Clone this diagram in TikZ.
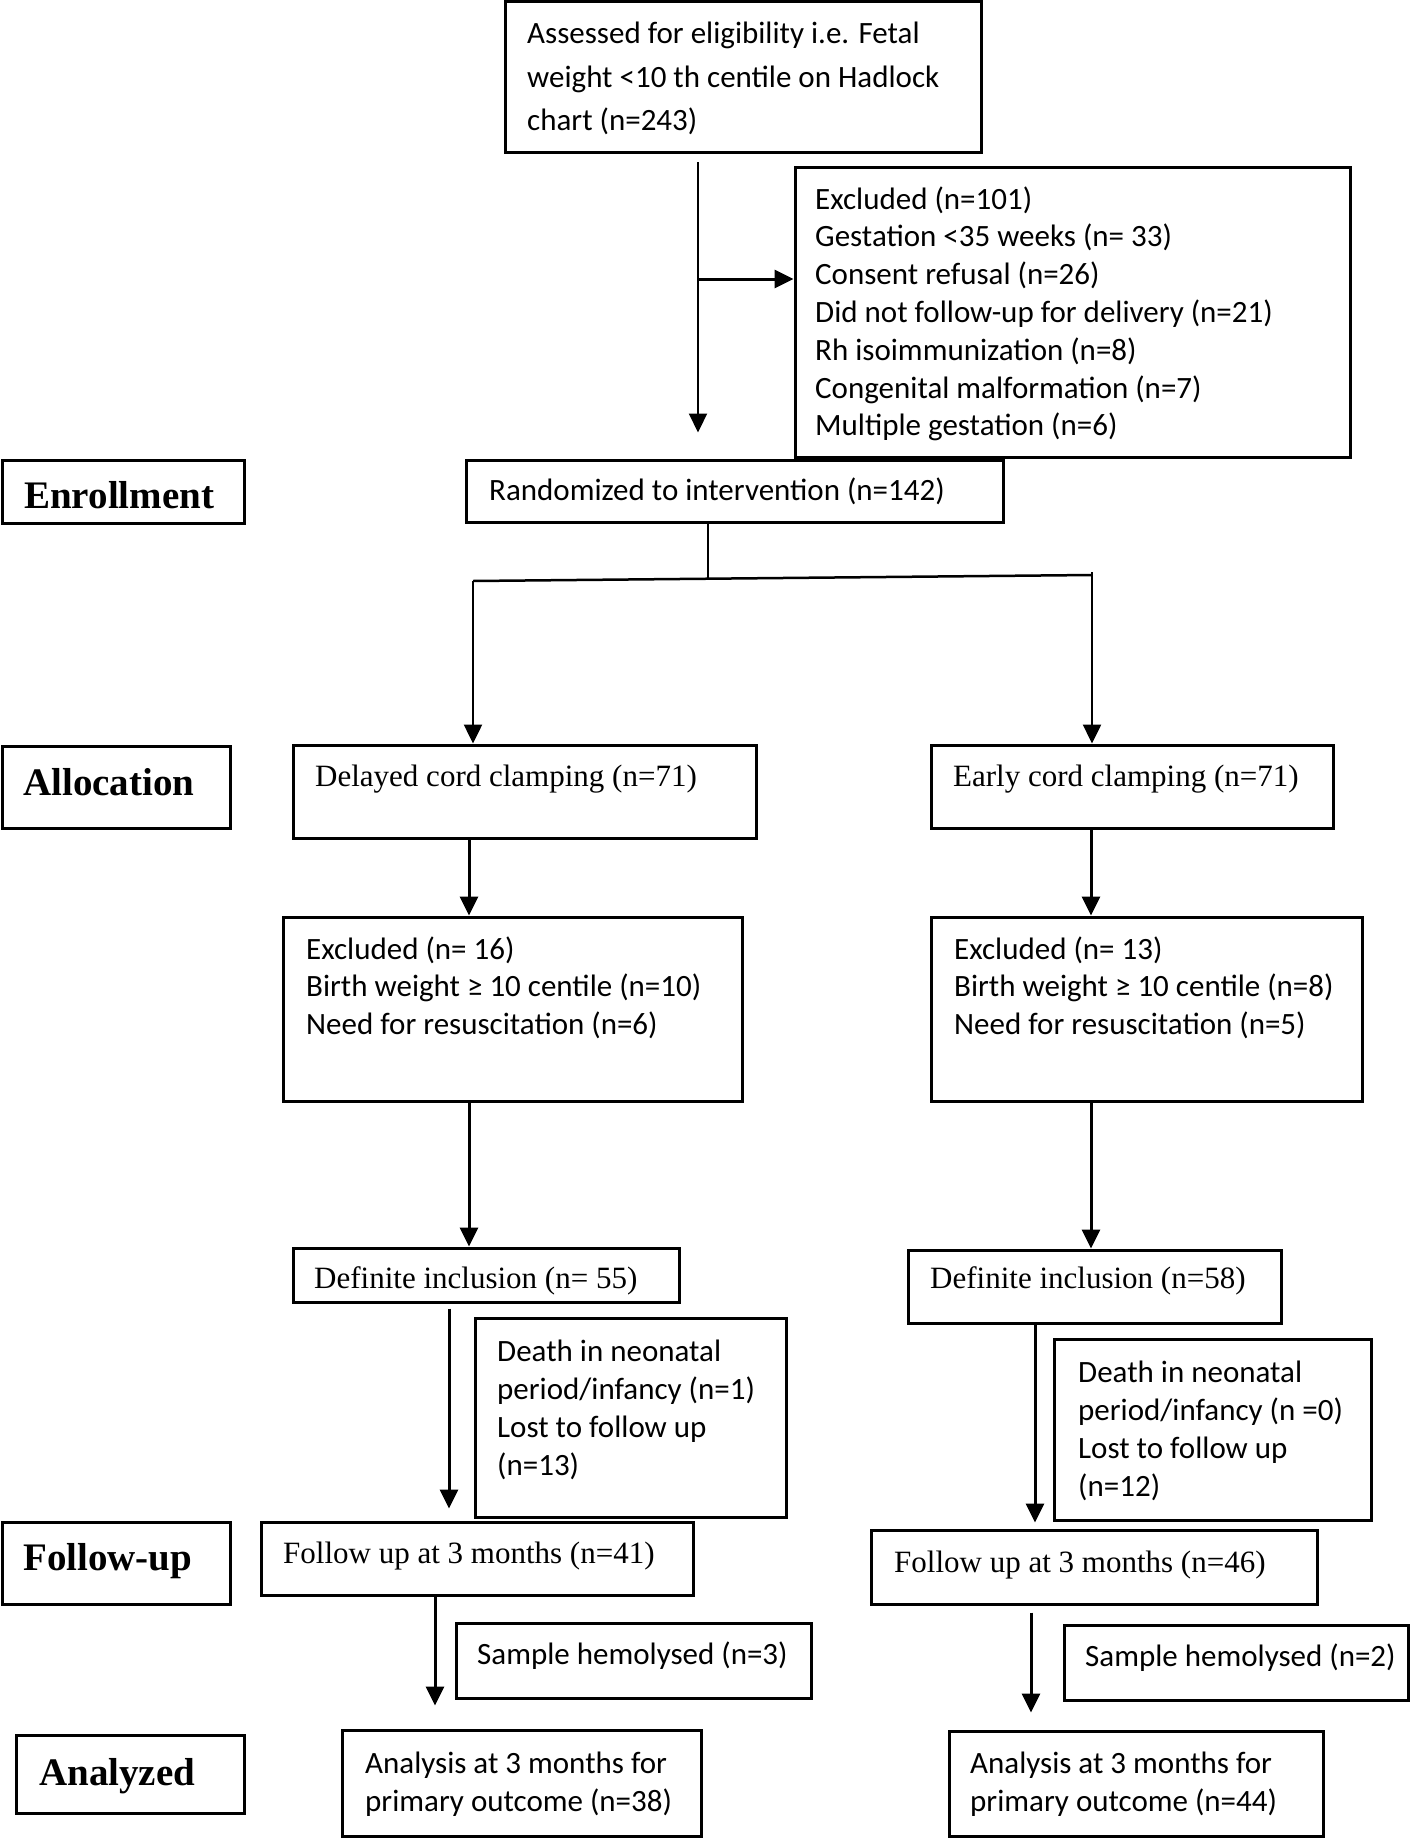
\documentclass[tikz,border=0pt]{standalone}
\usepackage{fontspec}
\setmainfont{Carlito}
\newfontfamily\tnr{Liberation Serif}
\usetikzlibrary{arrows.meta,fit}
\newcommand\mlines[2]{\parbox[t]{800pt}{\raggedright\fontsize{31}{#1}\selectfont #2}}
\begin{document}
\begin{tikzpicture}[x=1pt,y=-1pt,
  box/.style={draw, line width=3pt, inner sep=0pt},
  txt/.style={anchor=base west, inner sep=0pt, font=\fontsize{31}{38}\selectfont},
  ttxt/.style={anchor=base west, inner sep=0pt, font=\tnr\fontsize{31}{38}\selectfont},
  lab/.style={anchor=base west, inner sep=0pt, font=\tnr\bfseries\fontsize{39}{47}\selectfont},
  arr/.style={line width=3pt, -{Triangle[length=19pt,width=18pt]}}]
\useasboundingbox (0,0) rectangle (1420,1838);
\fill[white] (0,0) rectangle (1420,1838);

% stage labels
\node[box, fit={(2,460) (244,523)}] (enr) {};
\node[lab] (enrt) at (24,508) {Enrollment};
\node[box, fit={(2,746) (230,828)}] (alo) {};
\node[lab] (alot) at (23,795) {Allocation};
\node[box, fit={(2,1522) (230,1604)}] (fol) {};
\node[lab] (folt) at (23,1570) {Follow-up};
\node[box, fit={(16,1735) (244,1813)}] (ana) {};
\node[lab] (anat) at (39,1785) {Analyzed};

% enrollment
\node[box, fit={(505,2) (981,153)}] (top) {};
\node[txt] (topt) at (527,44) {\mlines{43.5}{Assessed for eligibility i.e. Fetal\\weight <10 th centile on Hadlock\\chart (n=243)}};
\node[box, fit={(795,168) (1350,457)}] (exc) {};
\node[txt] (exct) at (815,209) {\mlines{37.8}{Excluded (n=101)\\Gestation <35 weeks (n= 33)\\Consent refusal (n=26)\\Did not follow-up for delivery (n=21)\\Rh isoimmunization (n=8)\\Congenital malformation (n=7)\\Multiple gestation (n=6)}};
\node[box, fit={(466,460) (1003,522)}] (rand) {};
\node[txt] (randt) at (489,500) {Randomized to intervention (n=142)};

% allocation
\node[box, fit={(293,745) (756,838)}] (del) {};
\node[ttxt] (delt) at (315,786) {Delayed cord clamping (n=71)};
\node[box, fit={(931,745) (1333,828)}] (ear) {};
\node[ttxt] (eart) at (953,786) {Early cord clamping (n=71)};
\node[box, fit={(283,917) (742,1101)}] (exl) {};
\node[txt] (exlt) at (306,959) {\mlines{37.7}{Excluded (n= 16)\\Birth weight ≥ 10 centile (n=10)\\Need for resuscitation (n=6)}};
\node[box, fit={(931,917) (1362,1101)}] (exr) {};
\node[txt] (exrt) at (954,959) {\mlines{37.7}{Excluded (n= 13)\\Birth weight ≥ 10 centile (n=8)\\Need for resuscitation (n=5)}};

% inclusion / follow-up
\node[box, fit={(293,1248) (679,1302)}] (dil) {};
\node[ttxt] (dilt) at (314,1288) {Definite inclusion (n= 55)};
\node[box, fit={(908,1250) (1281,1323)}] (dir) {};
\node[ttxt] (dirt) at (930,1288) {Definite inclusion (n=58)};
\node[box, fit={(475,1318) (786,1517)}] (dtl) {};
\node[txt] (dtlt) at (497,1361) {\mlines{38}{Death in neonatal\\period/infancy (n=1)\\Lost to follow up\\(n=13)}};
\node[box, fit={(1054,1339) (1371,1520)}] (dtr) {};
\node[txt] (dtrt) at (1078,1382) {\mlines{38}{Death in neonatal\\period/infancy (n =0)\\Lost to follow up\\(n=12)}};
\node[box, fit={(261,1522) (693,1595)}] (ful) {};
\node[ttxt] (fult) at (283,1563) {Follow up at 3 months (n=41)};
\node[box, fit={(871,1530) (1317,1604)}] (fur) {};
\node[ttxt] (furt) at (894,1572) {Follow up at 3 months (n=46)};

% analysis
\node[box, fit={(456,1623) (811,1698)}] (sal) {};
\node[txt] (salt) at (477,1664) {Sample hemolysed (n=3)};
\node[box, fit={(1064,1625) (1408,1700)}] (sar) {};
\node[txt] (sart) at (1085,1666) {Sample hemolysed (n=2)};
\node[box, fit={(342,1730) (701,1836)}] (anl) {};
\node[txt] (anlt) at (365,1773) {\mlines{38}{Analysis at 3 months for\\primary outcome (n=38)}};
\node[box, fit={(949,1731) (1323,1836)}] (anr) {};
\node[txt] (anrt) at (970,1773) {\mlines{38}{Analysis at 3 months for\\primary outcome (n=44)}};

% connectors
\coordinate (br) at (698,279);
\coordinate (split) at (708,578);
\coordinate (jL) at (473,581);
\coordinate (jR) at (1092,575);
\draw[arr, line width=2.2pt, shorten <=8pt, shorten >=26pt] (top.south -| br) -- (rand.north -| br);
\draw[arr] (br) -- (br -| exc.west);
\draw[line width=1.8pt] (rand.south -| split) -- (split);
\draw[line width=2.5pt] (jL) -- (jR);
\draw[arr, line width=2.5pt] (jL) -- (jL |- del.north);
\draw[arr, line width=2.5pt] (1092,572) -- (jR |- ear.north);
\draw[arr] (del.south -| 469,0) -- (exl.north -| 469,0);
\draw[arr] (ear.south -| 1091,0) -- (exr.north -| 1091,0);
\draw[arr] (exl.south -| 469,0) -- (dil.north -| 469,0);
\draw[arr] (exr.south -| 1091,0) -- (dir.north -| 1091,0);
\draw[arr, shorten <=5pt, shorten >=12pt] (dil.south -| 449,0) -- (ful.north -| 449,0);
\draw[arr, shorten >=6pt] (dir.south -| 1035,0) -- (fur.north -| 1035,0);
\draw[arr, shorten >=23pt] (ful.south -| 435,0) -- (anl.north -| 435,0);
\draw[arr, shorten <=7pt, shorten >=17pt] (fur.south -| 1031,0) -- (anr.north -| 1031,0);
\end{tikzpicture}
\end{document}
